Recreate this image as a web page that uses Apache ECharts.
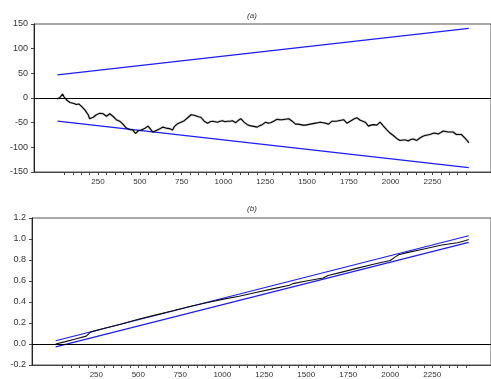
<!DOCTYPE html>
<html>
<head>
<meta charset="utf-8">
<script src="https://cdn.jsdelivr.net/npm/echarts@6/dist/echarts.min.js"></script>
<style>
html,body{margin:0;padding:0;background:#fff;}
#chart{width:491px;height:379px;}
</style>
</head>
<body>
<div id="chart"></div>
<script>
// ---- Data ----
var xRange = [-133, 2600];
var xLabelValues = [250, 500, 750, 1000, 1250, 1500, 1750, 2000, 2250];
var xTickValues = [50,100,150,200,250,300,350,400,450,500,550,600,650,700,750,800,850,900,950,1000,1050,1100,1150,1200,1250,1300,1350,1400,1450,1500,1550,1600,1650,1700,1750,1800,1850,1900,1950,2000,2050,2100,2150,2200,2250,2300,2350,2400,2450];

// (a) CUSUM
var cusumX = [6,15,22,30,38,45,52,62,72,82,92,105,121,135,151,160,171,181,191,200,210,221,230,240,250,260,270,280,290,300,310,320,330,339,349,359,369,379,389,399,409,419,429,439,449,458,466,474,481,488,498,508,518,528,538,548,555,562,570,577,588,598,608,617,627,637,647,657,667,677,687,696,706,717,726,736,746,756,766,776,786,796,806,816,826,836,850,865,875,885,895,905,920,935,950,964,980,994,1010,1024,1040,1054,1064,1074,1090,1104,1113,1123,1133,1143,1158,1173,1188,1202,1217,1232,1242,1252,1267,1282,1300,1321,1336,1351,1370,1391,1401,1411,1421,1431,1446,1461,1476,1490,1505,1520,1535,1550,1565,1580,1595,1610,1620,1629,1640,1649,1659,1674,1689,1704,1719,1728,1738,1753,1768,1783,1798,1808,1818,1833,1848,1858,1867,1882,1897,1907,1917,1927,1937,1947,1957,1966,1976,1986,1996,2006,2016,2026,2036,2046,2056,2066,2076,2090,2105,2120,2135,2145,2155,2165,2175,2190,2205,2220,2235,2250,2264,2274,2284,2300,2314,2330,2344,2360,2373,2383,2393,2408,2423,2433,2443,2452,2462,2467];
var cusumY = [-2,0,1,4,8,3,1,-4,-8,-9,-10,-11,-13,-12,-17,-19,-24,-28,-34,-42,-40,-39,-37,-34,-33,-31,-33,-32,-34,-37,-34,-32,-34,-37,-40,-44,-45,-47,-50,-53,-57,-61,-62,-64,-63,-65,-68,-72,-69,-67,-66,-65,-63,-62,-60,-57,-60,-62,-66,-69,-67,-66,-64,-63,-60,-59,-60,-61,-60,-62,-64,-65,-58,-54,-52,-51,-49,-47,-46,-44,-40,-37,-34,-33,-35,-37,-38,-39,-43,-47,-50,-51,-48,-47,-48,-49,-47,-46,-48,-47,-47,-46,-48,-50,-45,-42,-46,-49,-52,-54,-56,-57,-58,-59,-56,-54,-51,-49,-51,-50,-47,-43,-44,-44,-43,-42,-45,-47,-50,-53,-53,-54,-55,-55,-54,-53,-52,-51,-50,-49,-50,-51,-53,-53,-50,-47,-47,-47,-46,-45,-44,-48,-51,-48,-45,-42,-40,-43,-45,-47,-49,-53,-57,-55,-54,-55,-55,-52,-49,-53,-57,-60,-64,-67,-71,-73,-76,-79,-82,-84,-86,-87,-85,-85,-87,-84,-83,-85,-86,-84,-81,-78,-76,-75,-74,-72,-71,-72,-73,-70,-67,-68,-69,-69,-69,-71,-74,-74,-74,-77,-81,-85,-88,-91];
var cusumBoundX = [8, 2467];
var cusumUpper = [47, 141];
var cusumLower = [-47, -141];
var yTicksA = [-150, 150, 50];

// (b) CUSUM of squares
var sqX = [8,60,120,190,200,215,300,400,500,600,700,800,900,1000,1100,1200,1300,1400,1420,1500,1600,1630,1700,1800,1900,2000,2030,2050,2100,2200,2300,2400,2450,2467];
var sqY = [0.0,0.02,0.045,0.075,0.09,0.113,0.15,0.19,0.235,0.275,0.315,0.355,0.39,0.425,0.455,0.49,0.525,0.56,0.575,0.60,0.628,0.652,0.68,0.72,0.76,0.795,0.83,0.85,0.87,0.905,0.94,0.965,0.985,0.995];
var sqBoundX = [8, 2467];
var sqUpper = [0.031, 1.031];
var sqLower = [-0.027, 0.968];
var yTicksB = [-0.2, 1.2, 0.2];

function pairs(xs, ys){ return xs.map(function(x,i){ return [x, ys[i]]; }); }

var FONT = 'Liberation Sans, Arial, Helvetica, sans-serif';
var BLUE = '#1c1cff';
var AXC = '#444';

function xAxisCfg(gi){
  return {
    type:'value', gridIndex:gi, min:xRange[0], max:xRange[1],
    axisLine:{show:true, onZero:false, lineStyle:{color:AXC, width:1}},
    axisTick:{show:true, length:3, customValues:xTickValues, lineStyle:{color:AXC}},
    axisLabel:{customValues:xLabelValues, fontSize:8, color:'#333', margin:6, fontFamily:FONT,
      formatter:function(v){ return String(Math.round(v)); }},
    splitLine:{show:false}
  };
}
function yAxisCfg(gi, t, fmt){
  return {
    type:'value', gridIndex:gi, min:t[0], max:t[1], interval:t[2],
    axisLine:{show:true, onZero:false, lineStyle:{color:'#222', width:1}},
    axisTick:{show:true, length:3, lineStyle:{color:AXC}},
    axisLabel:{fontSize:9, color:'#333', margin:6, fontFamily:FONT, formatter:fmt},
    splitLine:{show:false}
  };
}
function zeroLine(){
  return {silent:true, symbol:['none','none'], label:{show:false},
    lineStyle:{color:'#000', width:1.2, type:'solid'}, data:[{yAxis:0}], animation:false};
}

var chart = echarts.init(document.getElementById('chart'), null, {renderer:'canvas'});
chart.setOption({
  animation:false,
  backgroundColor:'#fff',
  textStyle:{fontFamily:FONT},
  graphic:[
    {type:'text', x:252, y:16, style:{text:'(a)', fontSize:8, fontStyle:'italic', fill:'#333', fontFamily:FONT, textAlign:'center', textVerticalAlign:'middle'}},
    {type:'text', x:252, y:209, style:{text:'(b)', fontSize:8, fontStyle:'italic', fill:'#333', fontFamily:FONT, textAlign:'center', textVerticalAlign:'middle'}}
  ],
  grid:[
    {left:34, top:24, right:-1, bottom:207, show:true, borderColor:'#555', borderWidth:1, backgroundColor:'transparent'},
    {left:32, top:218, right:-1, bottom:14, show:true, borderColor:'#555', borderWidth:1, backgroundColor:'transparent'}
  ],
  xAxis:[xAxisCfg(0), xAxisCfg(1)],
  yAxis:[
    yAxisCfg(0, yTicksA, function(v){ return String(Math.round(v)); }),
    yAxisCfg(1, yTicksB, function(v){ return v.toFixed(1); })
  ],
  series:[
    {type:'line', xAxisIndex:0, yAxisIndex:0, data:pairs(cusumBoundX, cusumUpper), symbol:'none', lineStyle:{color:BLUE, width:1.2}, silent:true},
    {type:'line', xAxisIndex:0, yAxisIndex:0, data:pairs(cusumBoundX, cusumLower), symbol:'none', lineStyle:{color:BLUE, width:1.2}, silent:true},
    {type:'line', xAxisIndex:0, yAxisIndex:0, data:pairs(cusumX, cusumY), symbol:'none', lineStyle:{color:'rgba(0,0,0,0.2)', width:2.4}, silent:true},
    {type:'line', xAxisIndex:0, yAxisIndex:0, data:pairs(cusumX, cusumY), symbol:'none', lineStyle:{color:'#000', width:1.1}, silent:true, markLine:zeroLine()},
    {type:'line', xAxisIndex:1, yAxisIndex:1, data:pairs(sqBoundX, sqUpper), symbol:'none', lineStyle:{color:BLUE, width:1.2}, silent:true},
    {type:'line', xAxisIndex:1, yAxisIndex:1, data:pairs(sqBoundX, sqLower), symbol:'none', lineStyle:{color:BLUE, width:1.2}, silent:true},
    {type:'line', xAxisIndex:1, yAxisIndex:1, data:pairs(sqX, sqY), symbol:'none', lineStyle:{color:'#111', width:1.1}, silent:true, markLine:zeroLine()}
  ]
});
</script>
</body>
</html>
